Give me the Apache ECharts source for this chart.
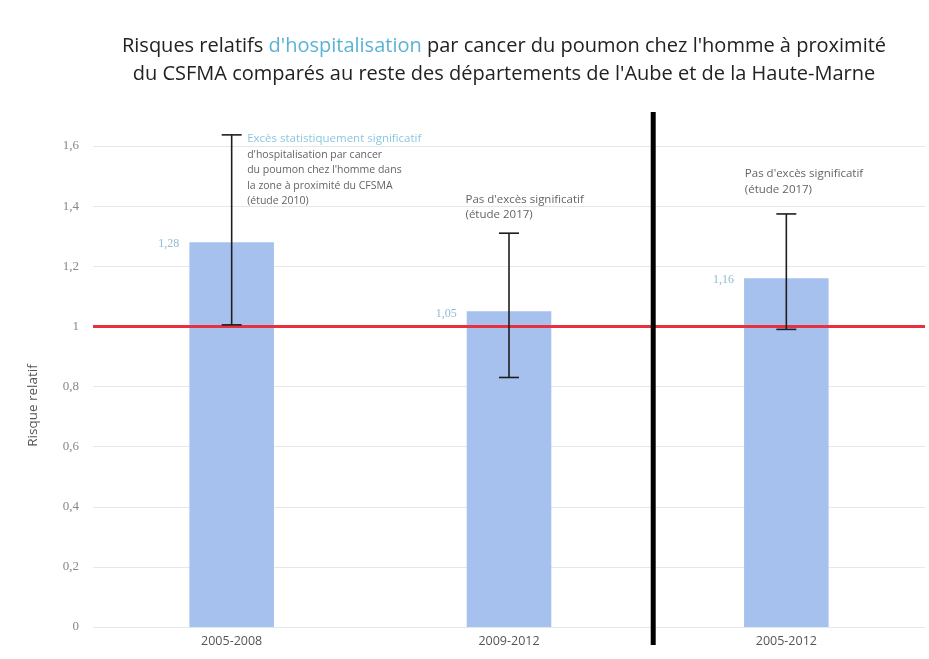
<!DOCTYPE html>
<html><head><meta charset="utf-8">
<script src="https://cdn.jsdelivr.net/npm/echarts@6/dist/echarts.min.js"></script>
<style>html,body{margin:0;padding:0;background:#fff}#c{width:929px;height:659px}</style>
</head><body><div id="c"></div>
<script>
var categories = ['2005-2008', '2009-2012', '2005-2012'];
var riskValues = [1.28, 1.05, 1.16];
var ciLow = [1.005, 0.83, 0.99];
var ciHigh = [1.637, 1.31, 1.374];
var yTicks = [0, 0.2, 0.4, 0.6, 0.8, 1, 1.2, 1.4, 1.6];
var referenceValue = 1;
var separatorPosition = 1.52;
var noteHighlight = ['Excès statistiquement significatif', '', ''];
var noteLines = [
  ["d'hospitalisation par cancer", "du poumon chez l'homme dans", "la zone à proximité du CFSMA", "(étude 2010)"],
  ["Pas d'excès significatif", "(étude 2017)"],
  ["Pas d'excès significatif", "(étude 2017)"]
];

var FONT = 'Open Sans';
var NUMFONT = 'Liberation Serif';
var noteOffsets = [[16, -3, 'top', 10.5], [-43, -10, 'bottom', 11.5], [-41, -16, 'bottom', 11.5]];

function fmt(v){ return String(v).replace('.', ','); }

var noteData = categories.map(function(c, i){
  var txt = [];
  if (noteHighlight[i]) txt.push('{h|' + noteHighlight[i] + '}');
  noteLines[i].forEach(function(l){ txt.push('{n|' + l + '}'); });
  var off = noteOffsets[i];
  return {
    value: [i, ciHigh[i]],
    label: {
      show: true,
      formatter: txt.join('\n'),
      position: [off[0], off[1]],
      align: 'left',
      verticalAlign: off[2],
      rich: {
        h: {fontFamily: FONT, fontSize: 11.5, color: '#6cb9d8', lineHeight: 15.5},
        n: {fontFamily: FONT, fontSize: off[3], color: '#3a3a3a', lineHeight: 15.5}
      }
    }
  };
});

var chart = echarts.init(document.getElementById('c'), null, {renderer: 'canvas'});
chart.setOption({
  backgroundColor: '#ffffff',
  animation: false,
  title: {
    left: 499,
    top: 27,
    textAlign: 'center',
    text: "Risques relatifs {b|d'hospitalisation} par cancer du poumon chez l'homme à proximité\ndu CSFMA comparés au reste des départements de l'Aube et de la Haute-Marne",
    textStyle: {
      fontFamily: FONT, fontSize: 20, fontWeight: 'normal', color: '#222', lineHeight: 28,
      rich: {b: {fontFamily: FONT, fontSize: 20, color: '#5ab3d6', lineHeight: 28}}
    }
  },
  grid: [
    {left: 93, right: 4, top: 146, bottom: 32},
    {left: 93, right: 4, top: 112, bottom: 14}
  ],
  xAxis: [
    {
      type: 'category', data: categories, gridIndex: 0,
      axisLine: {show: false}, axisTick: {show: false},
      axisLabel: {fontFamily: FONT, fontSize: 12.5, color: '#555', margin: 8}
    },
    {type: 'value', gridIndex: 1, min: -0.5, max: 2.5, show: false}
  ],
  yAxis: [
    {
      type: 'value', gridIndex: 0, min: 0, max: 1.6, interval: 0.2,
      name: 'Risque relatif', nameLocation: 'middle', nameGap: 53,
      nameTextStyle: {fontFamily: FONT, fontSize: 13.5, color: '#555', padding: [0, 38, 0, 0]},
      axisLine: {show: false}, axisTick: {show: false},
      axisLabel: {fontFamily: NUMFONT, fontSize: 13, color: '#888', margin: 14,
        formatter: function(v){ return fmt(Math.round(v*10)/10); }},
      splitLine: {lineStyle: {color: '#dfe9ee', width: 1}}
    },
    {type: 'value', gridIndex: 1, min: 0, max: 1, show: false}
  ],
  series: [
    {
      type: 'bar', xAxisIndex: 0, yAxisIndex: 0,
      data: riskValues, barWidth: '30.5%',
      itemStyle: {color: '#a7c1ef'},
      label: {
        show: true, position: [-10, 2], align: 'right', verticalAlign: 'middle',
        fontFamily: NUMFONT, fontSize: 12, color: '#8fbcd0',
        formatter: function(p){ return fmt(p.value); }
      },
      markLine: {
        silent: true, symbol: 'none', label: {show: false},
        lineStyle: {color: '#e8303e', width: 3, type: 'solid'},
        data: [{yAxis: referenceValue}]
      },
      z: 2
    },
    {
      type: 'custom', xAxisIndex: 0, yAxisIndex: 0, clip: false,
      data: categories.map(function(c, i){ return [i, ciLow[i], ciHigh[i]]; }),
      renderItem: function(params, api){
        var lo = api.coord([api.value(0), api.value(1)]);
        var hi = api.coord([api.value(0), api.value(2)]);
        var hw = 10;
        var st = {stroke: '#1e1e1e', lineWidth: 1.6};
        return {type: 'group', children: [
          {type: 'line', shape: {x1: lo[0], y1: lo[1], x2: hi[0], y2: hi[1]}, style: st},
          {type: 'line', shape: {x1: lo[0]-hw, y1: lo[1], x2: lo[0]+hw, y2: lo[1]}, style: st},
          {type: 'line', shape: {x1: hi[0]-hw, y1: hi[1], x2: hi[0]+hw, y2: hi[1]}, style: st}
        ]};
      },
      z: 5
    },
    {
      type: 'scatter', xAxisIndex: 0, yAxisIndex: 0, clip: false,
      symbolSize: 1, itemStyle: {color: 'rgba(0,0,0,0)'},
      labelLayout: {hideOverlap: false},
      data: noteData, z: 6
    },
    {
      type: 'line', xAxisIndex: 1, yAxisIndex: 1, symbol: 'none',
      lineStyle: {color: '#000', width: 5},
      data: [[separatorPosition, 0], [separatorPosition, 1]], z: 10
    }
  ]
});
</script></body></html>
